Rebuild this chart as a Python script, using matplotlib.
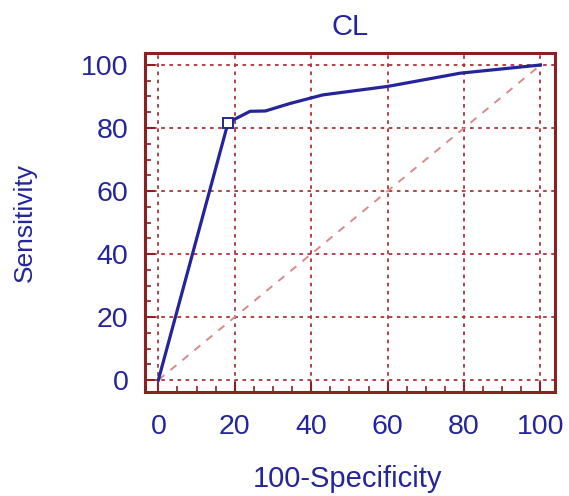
import matplotlib.pyplot as plt
from matplotlib.ticker import MultipleLocator

# ROC curve points
fpr = [0, 18.2, 19.5, 24.0, 28.0, 34.5, 43.0, 60.0, 79.0, 100]
tpr = [0, 81.5, 82.5, 85.3, 85.4, 87.8, 90.5, 93.2, 97.4, 100]
cut_x = [18.2]
cut_y = [81.5]
diag = [0, 100]
ticks = [0, 20, 40, 60, 80, 100]

frame_red = '#8c1f1f'
grid_red = '#a8363a'
navy = '#24259a'

plt.rcParams['font.family'] = ['Liberation Sans', 'DejaVu Sans']

fig = plt.figure(figsize=(5.69, 4.96), dpi=100)
ax = fig.add_axes([0.2548, 0.2097, 0.7206, 0.6834])

ax.plot(diag, diag, linestyle=(0, (4, 4)), color='#d88a8c', linewidth=1.4, zorder=2)
ax.plot(fpr, tpr, color=navy, linewidth=2.3, zorder=3)
ax.plot(cut_x, cut_y, marker='s', markersize=7, markerfacecolor='white',
        markeredgecolor=navy, markeredgewidth=1.4, linestyle='none', zorder=4)

ax.set_xlim(-3.5, 103.8)
ax.set_ylim(-3.8, 103.8)
ax.set_xticks(ticks)
ax.set_yticks(ticks)
ax.xaxis.set_minor_locator(MultipleLocator(5))
ax.yaxis.set_minor_locator(MultipleLocator(5))

ax.grid(True, which='major', color=grid_red, linestyle=(0, (2, 2.5)), linewidth=1.3, zorder=1)
for s in ax.spines.values():
    s.set_color(frame_red)
    s.set_linewidth(2.2)

ax.tick_params(which='major', direction='in', length=7, width=1.5, color=frame_red,
               labelsize=20.5, labelcolor=navy)
ax.tick_params(which='minor', direction='in', length=4, width=1.2, color=frame_red)
ax.tick_params(axis='x', which='major', pad=16)
ax.tick_params(axis='y', which='major', pad=12)

ax.set_title('CL', fontsize=21, color=navy, pad=13)
ax.set_xlabel('100-Specificity', fontsize=21, color=navy)
ax.set_ylabel('Sensitivity', fontsize=19, color=navy)
ax.xaxis.set_label_coords(0.495, -0.215)
ax.yaxis.set_label_coords(-0.263, 0.5)

fig.savefig('out.png', dpi=100)
